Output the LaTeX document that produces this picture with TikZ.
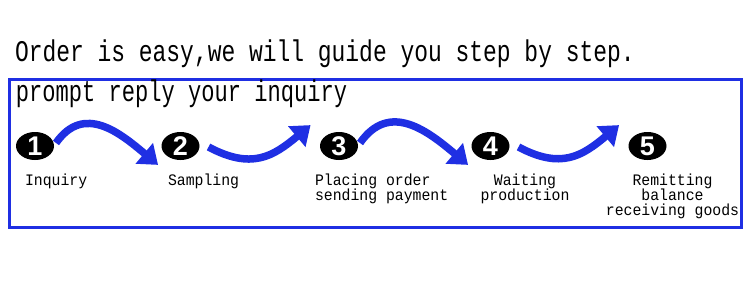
\documentclass[tikz,border=0pt]{standalone}
\usepackage{fontspec}
\setmonofont{Liberation Mono}
\setsansfont{Liberation Sans}
\usepackage{xcolor}
\definecolor{flowblue}{HTML}{1F2FE3}
\usetikzlibrary{arrows.meta, positioning, calc, shapes.geometric}
\setlength{\lineskiplimit}{-20pt}

\begin{document}
\begin{tikzpicture}[x=1pt, y=1pt,
    every node/.style={inner sep=0pt, outer sep=0pt},
    headline/.style={anchor=base west,
      font=\fontsize{30}{30}\selectfont\ttfamily},
    stepnum/.style={ellipse, fill=black, text=white, minimum width=38pt,
      minimum height=28pt, font=\fontsize{27}{27}\selectfont\sffamily\bfseries},
    steplabel/.style={xscale=0.925,
      font=\fontsize{16}{15}\selectfont\ttfamily},
    flow/.style={draw=flowblue, line width=7.5pt,
      -{Triangle[width=26pt, length=18pt]}}]
  \useasboundingbox (0,0) rectangle (750,-281);

  % heading and frame
  \node[headline, xscale=0.765] (title) at (15,-61.7) {Order is easy,we will guide you step by step.};
  \draw[flowblue, line width=3pt] (9.5,-79.5) rectangle (741,-227.5);
  \node[headline, xscale=0.736] (reply) at (16,-101.5) {prompt reply your inquiry};

  % numbered steps
  \foreach \i/\x in {1/35, 2/180.5, 3/339, 4/490.5, 5/647.5}{%
    \node[stepnum] (c\i) at (\x,-146) {\i};
  }

  % arrows between the steps
  \foreach \a/\b in {1/2, 3/4}{%
    \draw[flow] ([shift={(2,3)}]c\a.east) to[out=55, in=140, looseness=1.2]
      ([shift={(-9,-9)}]c\b.south west);
  }
  \foreach \a/\b in {2/3, 4/5}{%
    \draw[flow] ([shift={(9,-1)}]c\a.east) to[out=-28, in=-140, looseness=1.2]
      ([shift={(-15,11)}]c\b.north west);
  }

  % captions
  \node[steplabel, anchor=base west] (l1) at (25,-185) {Inquiry};
  \node[steplabel, anchor=base west] (l2) at (168,-185) {Sampling};
  \node[steplabel, anchor=north west, align=left] (l3) at (315,-174)
    {Placing order\\sending payment};
  \node[steplabel, anchor=north, align=center] (l4) at (525,-174)
    {Waiting\\production};
  \node[steplabel, anchor=north, align=center] (l5) at (672.5,-174)
    {Remitting\\balance\\receiving goods};
\end{tikzpicture}
\end{document}
